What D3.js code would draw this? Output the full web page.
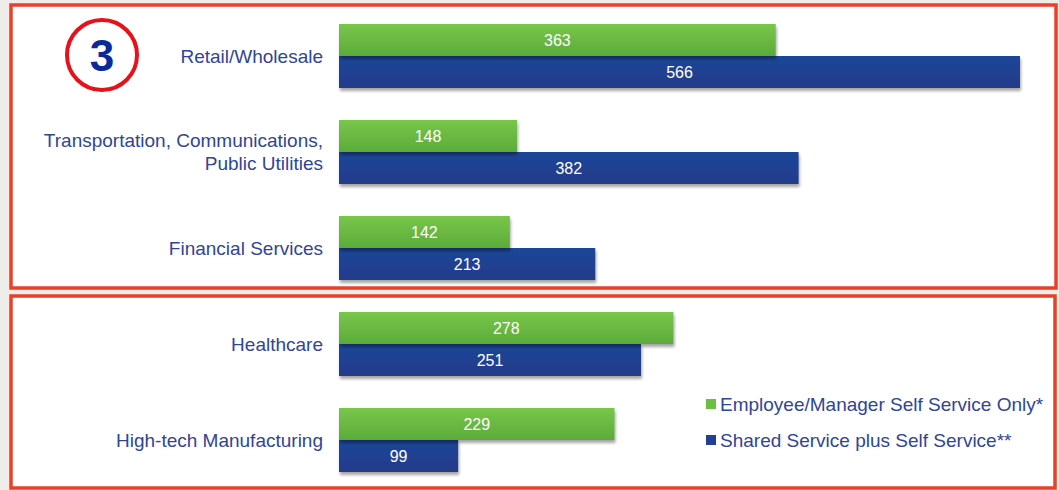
<!DOCTYPE html>
<html><head><meta charset="utf-8">
<script src="https://cdn.jsdelivr.net/npm/d3@7"></script>
<style>html,body{margin:0;padding:0;background:#efedea;}svg{display:block;}</style>
</head><body>
<svg id="chart" width="1059" height="490"></svg>
<script>
const categories = ["Retail/Wholesale", "Transportation, Communications,\nPublic Utilities", "Financial Services", "Healthcare", "High-tech Manufacturing"];
const employeeOnly = [363, 148, 142, 278, 229];
const sharedPlus = [566, 382, 213, 251, 99];
const seriesNames = ["Employee/Manager Self Service Only*", "Shared Service plus Self Service**"];

const FONT = "'Liberation Sans', Arial, sans-serif";
const svg = d3.select("#chart");
const defs = svg.append("defs");
const gG = defs.append("linearGradient").attr("id","gGreen").attr("x1",0).attr("y1",0).attr("x2",0).attr("y2",1);
gG.append("stop").attr("offset","0%").attr("stop-color","#78c64a");
gG.append("stop").attr("offset","100%").attr("stop-color","#5cab3a");
const gB = defs.append("linearGradient").attr("id","gBlue").attr("x1",0).attr("y1",0).attr("x2",0).attr("y2",1);
gB.append("stop").attr("offset","0%").attr("stop-color","#1d4699");
gB.append("stop").attr("offset","100%").attr("stop-color","#233b8a");
const sh = defs.append("filter").attr("id","shadow").attr("x","-5%").attr("y","-20%").attr("width","110%").attr("height","160%");
sh.append("feDropShadow").attr("dx",1).attr("dy",3).attr("stdDeviation",1.5).attr("flood-color","#000").attr("flood-opacity",0.35);

// panels
svg.append("rect").attr("x",11).attr("y",5).attr("width",1045).attr("height",283).attr("fill","#fff").attr("stroke","#e8402a").attr("stroke-width",3.5);
svg.append("rect").attr("x",11).attr("y",296).attr("width",1044).attr("height",192).attr("fill","#fff").attr("stroke","#e8402a").attr("stroke-width",3.5);

const x = d3.scaleLinear().domain([0, 566]).range([339, 1020]);
const y = d3.scaleBand().domain(categories).range([8, 488]).paddingInner(1/3).paddingOuter(1/6);
const sub = d3.scaleBand().domain([0,1]).range([0, y.bandwidth()]);

const labelColor = "#2f4596";
categories.forEach((c, i) => {
  const g = svg.append("g").attr("transform", `translate(0,${y(c)})`);
  const vals = [employeeOnly[i], sharedPlus[i]];
  [1,0].forEach(k => {
    g.append("rect").attr("x", x(0)).attr("y", sub(k)).attr("width", x(vals[k]) - x(0)).attr("height", sub.bandwidth())
      .attr("fill", k===0 ? "url(#gGreen)" : "url(#gBlue)").attr("filter", "url(#shadow)");
  });
  [0,1].forEach(k => {
    g.append("text").attr("x", (x(0)+x(vals[k]))/2).attr("y", sub(k)+sub.bandwidth()/2).attr("dy","0.36em")
      .attr("text-anchor","middle").attr("fill","#fff").attr("font-family",FONT).attr("font-size",16)
      .text(vals[k]);
  });
  const lines = c.split("\n");
  const t = svg.append("text").attr("text-anchor","end").attr("fill",labelColor)
    .attr("font-family",FONT).attr("font-size",19);
  const cy = y(c) + y.bandwidth()/2;
  lines.forEach((ln, j) => {
    t.append("tspan").attr("x", 323).attr("y", cy + (j - (lines.length-1)/2)*23).attr("dy","0.35em").text(ln);
  });
});

// circled 3
svg.append("circle").attr("cx",102).attr("cy",55).attr("r",35).attr("fill","#fff").attr("stroke","#e8101a").attr("stroke-width",4);
svg.append("text").attr("x",102).attr("y",55).attr("dy","0.36em").attr("text-anchor","middle").attr("fill","#0a2a9c")
  .attr("font-family",FONT).attr("font-weight","bold").attr("font-size",44).text("3");

// legend
const legColors = ["#6cbf45", "#213f93"];
seriesNames.forEach((n, i) => {
  const ly = 404 + i*36;
  svg.append("rect").attr("x",706).attr("y",ly-5).attr("width",10).attr("height",10).attr("fill",legColors[i]);
  svg.append("text").attr("x",720).attr("y",ly).attr("dy","0.35em").attr("fill",labelColor)
    .attr("font-family",FONT).attr("font-size",19).text(n);
});
</script>
</body></html>
